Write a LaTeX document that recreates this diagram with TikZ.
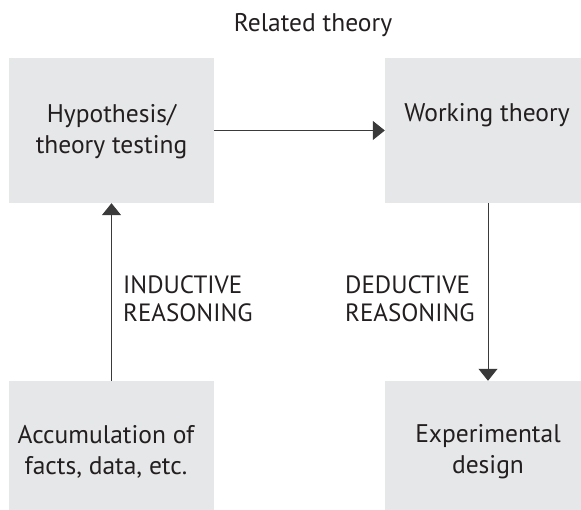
\documentclass[tikz,border=0pt]{standalone}
\usepackage{fontspec}
\setmainfont{PT Sans}
\usepackage{tikz}
\usetikzlibrary{arrows.meta}
\definecolor{boxgray}{HTML}{E6E7E8}
\definecolor{inkgray}{HTML}{231F20}
\definecolor{linegray}{HTML}{3A3A3A}
\tikzset{
    panel/.style={fill=boxgray, draw=none, inner sep=0pt},
    words/.style={text=inkgray, inner sep=0pt, font=\fontsize{25.5}{31}\selectfont, align=center},
    reason/.style={text=inkgray, inner sep=0pt, font=\fontsize{25}{28}\selectfont, align=left, anchor=west},
    flow/.style={draw=linegray, line width=1pt, -{Triangle[width=19pt, length=12pt]}}
}
\begin{document}
\begin{tikzpicture}[x=1pt, y=1pt]
            \useasboundingbox (0,0) rectangle (581,510);
            % boxes
            \node[panel, minimum width=205pt, minimum height=145pt] (hyp) at (111.5,379.5) {};
            \node[panel, minimum width=196pt, minimum height=145pt] (work) at (483,379.5) {};
            \node[panel, minimum width=205pt, minimum height=129pt] (accum) at (111.5,64.5) {};
            \node[panel, minimum width=196pt, minimum height=129pt] (expt) at (483,64.5) {};
            % texts
            \node[words] (title) at (313,485) {Related theory};
            \node[words] (hyptext) at (111.5,378) {Hypothesis/\\theory testing};
            \node[words] (worktext) at (487,395) {Working theory};
            \node[words] (accumtext) at (106,58) {Accumulation of\\facts, data, etc.};
            \node[words] (expttext) at (488,58.5) {Experimental\\design};
            \node[reason] (induct) at (123,211) {INDUCTIVE\\REASONING};
            \node[reason] (deduct) at (345,211) {DEDUCTIVE\\REASONING};
            % arrows
            \draw[flow] (accum.north) -- (hyp.south);
            \draw[flow] (hyp.east) -- (work.west);
            \draw[flow] ([xshift=5pt]work.south) -- ([xshift=5pt]expt.north);
        \end{tikzpicture}
\end{document}
